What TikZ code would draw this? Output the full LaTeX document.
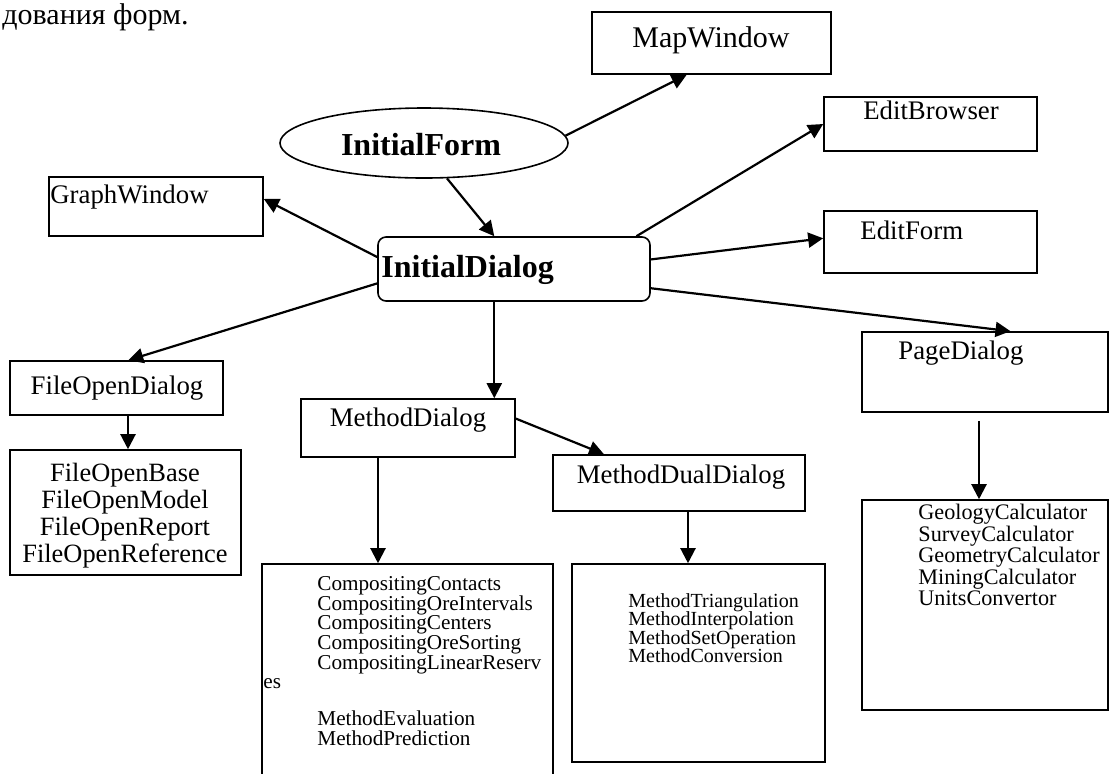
\documentclass[tikz,border=0pt]{standalone}
\usepackage{fontspec}
\setmainfont{Liberation Serif}
\usetikzlibrary{arrows.meta,shapes.geometric}

\tikzset{
  box/.style={draw, line width=0.8pt, inner sep=0pt},
  arr/.style={line width=1.1pt, -{Triangle[length=7.5pt,width=7.5pt]}},
  ttl/.style={inner sep=0pt, font=\fontsize{13.4}{15}\selectfont},
  big/.style={inner sep=0pt, font=\fontsize{16}{18}\selectfont\bfseries},
}

\begin{document}
\begin{tikzpicture}[x=0.5pt,y=-0.5pt]
    \useasboundingbox (0,0) rectangle (1113,773);
    \clip (0,0) rectangle (1113,773);

    % page text above the figure
    \node[anchor=base west, inner sep=0pt, font=\fontsize{15}{18}\selectfont] (pagetxt) at (2,24) {дования форм.};

    % boxes
    \node[box, ellipse, minimum width=144pt, minimum height=35pt] (iform) at (424,143) {};
    \node[box, minimum width=119.5pt, minimum height=31pt] (mapwin) at (711.5,43) {};
    \node[box, minimum width=106.5pt, minimum height=27pt] (editbr) at (930.5,124) {};
    \node[box, minimum width=107pt, minimum height=29.5pt] (graphwin) at (156,206.5) {};
    \node[box, rounded corners=4pt, minimum width=136pt, minimum height=32pt] (idialog) at (514,269) {};
    \node[box, minimum width=106.5pt, minimum height=31pt] (editform) at (930.5,242) {};
    \node[box, minimum width=123pt, minimum height=40pt] (pagedlg) at (985,372) {};
    \node[box, minimum width=106.5pt, minimum height=27pt] (fodlg) at (116.5,388) {};
    \node[box, minimum width=115.5pt, minimum height=62.5pt] (folist) at (125.5,512.5) {};
    \node[box, minimum width=107pt, minimum height=29pt] (mdlg) at (408,428) {};
    \node[box, minimum width=126pt, minimum height=28pt] (mdual) at (679,483) {};
    \node[box, minimum width=145.5pt, minimum height=118pt] (complist) at (407.5,682) {};
    \node[box, minimum width=126.5pt, minimum height=99pt] (methlist) at (698.5,663) {};
    \node[box, minimum width=123pt, minimum height=105pt] (calclist) at (985,605) {};

    % titles
    \node[big] (iform-t) at (421,145) {InitialForm};
    \node[ttl, font=\fontsize{15}{18}\selectfont] (mapwin-t) at (711,40) {MapWindow};
    \node[ttl] (editbr-t) at (931,110) {EditBrowser};
    \node[ttl, anchor=west] (graphwin-t) at (50,197) {GraphWindow};
    \node[big, anchor=west] (idialog-t) at (381,270) {InitialDialog};
    \node[ttl, anchor=west] (editform-t) at (860,230) {EditForm};
    \node[ttl, anchor=west] (pagedlg-t) at (898,353) {PageDialog};
    \node[ttl] (fodlg-t) at (117,388) {FileOpenDialog};
    \node[ttl] (mdlg-t) at (408,420) {MethodDialog};
    \node[ttl] (mdual-t) at (681,477) {MethodDualDialog};

    % lists
    \foreach \t [count=\i] in {FileOpenBase,FileOpenModel,FileOpenReport,FileOpenReference}
    {
      \node[ttl, anchor=base, font=\fontsize{13.2}{15}\selectfont] (fo\i) at (125,454+27*\i) {\t};
    }
    \foreach \t [count=\i] in {CompositingContacts,CompositingOreIntervals,CompositingCenters,CompositingOreSorting,CompositingLinearReserv}
    {
      \node[ttl, anchor=base west, font=\fontsize{10.6}{12}\selectfont] (comp\i) at (317,570.4+19.8*\i) {\t};
    }
    \node[ttl, anchor=base west, font=\fontsize{10.6}{12}\selectfont] (comp-es) at (263,688) {es};
    \node[ttl, anchor=base west, font=\fontsize{10.6}{12}\selectfont] (meval) at (317,725) {MethodEvaluation};
    \node[ttl, anchor=base west, font=\fontsize{10.6}{12}\selectfont] (mpred) at (317,745) {MethodPrediction};
    \foreach \t [count=\i] in {MethodTriangulation,MethodInterpolation,MethodSetOperation,MethodConversion}
    {
      \node[ttl, anchor=base west, font=\fontsize{10}{12}\selectfont] (meth\i) at (628,588.5+18.5*\i) {\t};
    }
    \foreach \t [count=\i] in {GeologyCalculator,SurveyCalculator,GeometryCalculator,MiningCalculator,UnitsConvertor}
    {
      \node[ttl, anchor=base west, font=\fontsize{11.1}{12}\selectfont] (calc\i) at (918,498+21.5*\i) {\t};
    }

    % arrows
    \draw[arr] (iform.3) -- (mapwin.232);
    \draw[arr] (iform.303) -- (idialog.121);
    \draw[arr] (idialog.175) -- (graphwin.4);
    \draw[arr] (idialog.186) -- (fodlg.67);
    \draw[arr] (idialog.15) -- (editbr.west);
    \draw[arr] (idialog.4) -- (editform.178);
    \draw[arr] (idialog.352) -- (pagedlg.58);
    \draw[arr] (idialog.239) -- (idialog.239 |- mdlg.north);
    \draw[arr] (mdlg.5) -- (mdual.159);
    \draw[arr] ([xshift=-15pt]mdlg.south) -- ([xshift=-15pt]mdlg.south |- complist.north);
    \draw[arr] ([xshift=4.5pt]mdual.south) -- ([xshift=4.5pt]mdual.south |- methlist.north);
    \draw[arr] ([xshift=5.75pt]fodlg.south) -- ([xshift=5.75pt]fodlg.south |- folist.north);
    \draw[arr] ([shift={(-3pt,-4pt)}]pagedlg.south) -- ([xshift=-3pt]pagedlg.south |- calclist.north);
\end{tikzpicture}
\end{document}
